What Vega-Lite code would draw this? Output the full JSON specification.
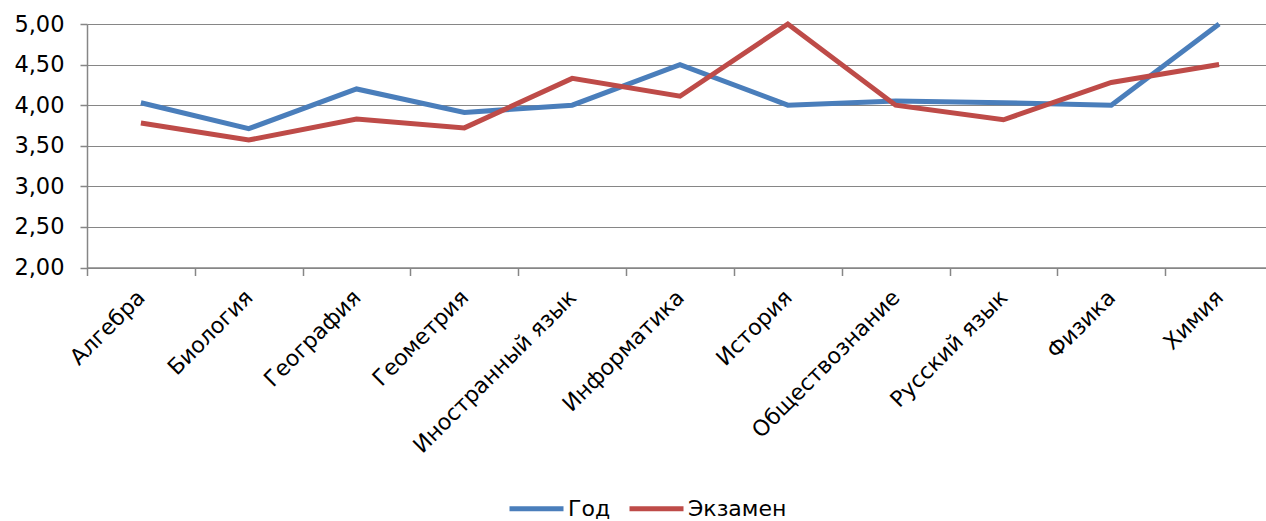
{
  "$schema": "https://vega.github.io/schema/vega-lite/v6.json",
  "autosize": "none",
  "padding": {"left": 87, "top": 24, "right": 0, "bottom": 253},
  "width": 1179,
  "height": 243.5,
  "background": "white",
  "config": {
    "view": {"stroke": null},
    "font": "DejaVu Sans"
  },
  "data": {
    "values": [
      {"subject": "Алгебра", "series": "Год", "value": 4.03},
      {"subject": "Биология", "series": "Год", "value": 3.71},
      {"subject": "География", "series": "Год", "value": 4.20},
      {"subject": "Геометрия", "series": "Год", "value": 3.91},
      {"subject": "Иностранный язык", "series": "Год", "value": 4.00},
      {"subject": "Информатика", "series": "Год", "value": 4.50},
      {"subject": "История", "series": "Год", "value": 4.00},
      {"subject": "Обществознание", "series": "Год", "value": 4.05},
      {"subject": "Русский язык", "series": "Год", "value": 4.03},
      {"subject": "Физика", "series": "Год", "value": 4.00},
      {"subject": "Химия", "series": "Год", "value": 5.00},
      {"subject": "Алгебра", "series": "Экзамен", "value": 3.78},
      {"subject": "Биология", "series": "Экзамен", "value": 3.57},
      {"subject": "География", "series": "Экзамен", "value": 3.83},
      {"subject": "Геометрия", "series": "Экзамен", "value": 3.72},
      {"subject": "Иностранный язык", "series": "Экзамен", "value": 4.33},
      {"subject": "Информатика", "series": "Экзамен", "value": 4.11},
      {"subject": "История", "series": "Экзамен", "value": 5.00},
      {"subject": "Обществознание", "series": "Экзамен", "value": 4.00},
      {"subject": "Русский язык", "series": "Экзамен", "value": 3.82},
      {"subject": "Физика", "series": "Экзамен", "value": 4.28},
      {"subject": "Химия", "series": "Экзамен", "value": 4.50}
    ]
  },
  "mark": {"type": "line", "strokeWidth": 5, "clip": false},
  "encoding": {
    "x": {
      "field": "subject",
      "type": "nominal",
      "sort": null,
      "scale": {"type": "band", "paddingInner": 0, "paddingOuter": 0, "range": [0, 1186]},
      "axis": {
        "title": null,
        "tickBand": "extent",
        "grid": false,
        "domainColor": "#868686",
        "domainWidth": 1.5,
        "tickColor": "#868686",
        "tickWidth": 1.5,
        "tickSize": 8,
        "labelAngle": -45,
        "labelAlign": "right",
        "labelBaseline": "middle",
        "labelFontSize": 22,
        "labelColor": "black",
        "labelPadding": 18,
        "labelDx": 8,
        "labelLimit": 0,
        "labelOverlap": false
      }
    },
    "y": {
      "field": "value",
      "type": "quantitative",
      "scale": {"domain": [2, 5], "nice": false, "zero": false},
      "axis": {
        "title": null,
        "values": [2, 2.5, 3, 3.5, 4, 4.5, 5],
        "grid": true,
        "gridColor": "#868686",
        "gridWidth": 1.2,
        "domainColor": "#868686",
        "domainWidth": 1.5,
        "tickColor": "#868686",
        "tickWidth": 1.5,
        "tickSize": 7,
        "labelFontSize": 22.5,
        "labelColor": "black",
        "labelPadding": 16,
        "labelExpr": "replace(format(datum.value, '.2f'), '.', ',')"
      }
    },
    "color": {
      "field": "series",
      "type": "nominal",
      "scale": {"domain": ["Год", "Экзамен"], "range": ["#4A7EBB", "#BE4B48"]},
      "legend": {
        "title": null,
        "orient": "none",
        "direction": "horizontal",
        "legendX": 420,
        "legendY": 455,
        "symbolType": "stroke",
        "symbolSize": 2916,
        "symbolStrokeWidth": 5,
        "labelFontSize": 22,
        "labelColor": "black",
        "labelOffset": 2,
        "columnPadding": 8
      }
    }
  }
}
